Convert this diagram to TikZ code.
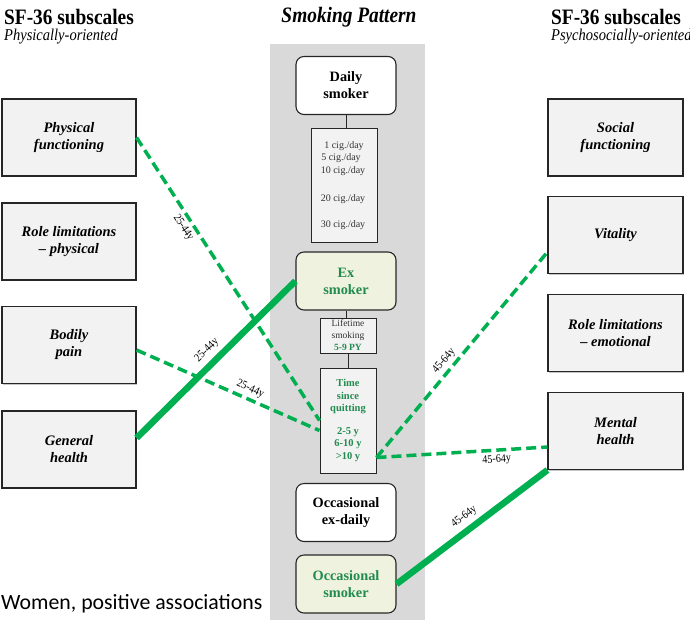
\documentclass[tikz,border=0pt]{standalone}
\usepackage{fontspec}
\setmainfont{Liberation Serif}
\newfontfamily\headfont{Liberation Serif}[FakeStretch=0.88]
\newfontfamily\notefont{Carlito}
\usetikzlibrary{shadows}

\definecolor{assocgreen}{RGB}{0,176,80}
\definecolor{textgreen}{RGB}{34,139,78}
\definecolor{bandgray}{RGB}{217,217,217}
\definecolor{boxgray}{RGB}{242,242,242}
\definecolor{exfill}{RGB}{238,242,222}

\begin{document}
\begin{tikzpicture}[x=1pt,y=-1pt,
  scale box/.style={draw=black!85,line width=1.1pt,fill=boxgray,minimum width=134pt,minimum height=77pt,
    inner sep=0pt,align=center,font=\fontsize{14.5}{17}\selectfont\bfseries\itshape,
    drop shadow={shadow xshift=1.2pt,shadow yshift=-1.2pt,opacity=.45}},
  pattern box/.style={draw=black!85,line width=1.1pt,rounded corners=8pt,minimum width=100pt,minimum height=58pt,
    inner sep=0pt,align=center,font=\fontsize{14.3}{17}\selectfont\bfseries},
  detail box/.style={draw=black!85,line width=1pt,fill=boxgray,inner sep=0pt,align=center},
  dose/.style={font=\fontsize{10}{10}\selectfont,text=black!80,inner sep=0pt},
  stem/.style={black!85,line width=1pt},
  assoc/.style={assocgreen,line width=6.5pt},
  assoc dashed/.style={assocgreen,line width=3.5pt,dash pattern=on 10pt off 5pt},
  age/.style={font=\headfont\fontsize{11.5}{11.5}\selectfont,sloped,inner sep=3pt,text=black}
]
\useasboundingbox (0,0) rectangle (690,625);

% Background band for the smoking pattern column
\fill[bandgray] (270,44) rectangle (425,620);

% Headings
\node[anchor=west,inner sep=0pt,font=\headfont\fontsize{22}{22}\selectfont\bfseries] (lefthead) at (4,17) {SF-36 subscales};
\node[anchor=west,inner sep=0pt,font=\headfont\fontsize{16.5}{16.5}\selectfont\itshape] (leftsub) at (4,37) {Physically-oriented};
\node[inner sep=0pt,font=\headfont\fontsize{22}{22}\selectfont\bfseries\itshape] (title) at (349,17) {Smoking Pattern};
\node[anchor=west,inner sep=0pt,font=\headfont\fontsize{22}{22}\selectfont\bfseries] (righthead) at (551,17) {SF-36 subscales};
\node[anchor=west,inner sep=0pt,font=\headfont\fontsize{16.5}{16.5}\selectfont\itshape] (rightsub) at (551,37) {Psychosocially-oriented};

% Physically-oriented subscales (manual placement)
\node[scale box] (physfunc)  at (69,137.5) {Physical\\functioning};
\node[scale box] (rolephys)  at (69,241.5) {Role limitations\\\textendash{} physical};
\node[scale box] (pain)      at (69,345)   {Bodily\\pain};
\node[scale box] (genhealth) at (69,449.5) {General\\health};

% Psychosocially-oriented subscales
\node[scale box,minimum width=135pt] (social)   at (615.5,137.5) {Social\\functioning};
\node[scale box,minimum width=135pt] (vitality) at (615.5,235)   {Vitality};
\node[scale box,minimum width=135pt] (roleemo)  at (615.5,333)   {Role limitations\\\textendash{} emotional};
\node[scale box,minimum width=135pt] (mental)   at (615.5,431)   {Mental\\health};

% Smoking pattern column
\node[pattern box,fill=white] (daily) at (346,85.5) {Daily\\smoker};
\node[detail box,minimum width=66pt,minimum height=114pt] (cig) at (344,185) {};
\node[dose] (cig1)  at (344,146) {1 cig./day};
\node[dose] (cig5)  at (341,158) {5 cig./day};
\node[dose] (cig10) at (343,171) {10 cig./day};
\node[dose] (cig20) at (343,199) {20 cig./day};
\node[dose] (cig30) at (343,225) {30 cig./day};

\node[pattern box,fill=exfill,text=textgreen] (ex) at (346,281) {Ex\\smoker};
\node[detail box,minimum width=56pt,minimum height=35pt,font=\fontsize{9.5}{12}\selectfont,text=black!80] (lifetime)
  at (348,335.5) {Lifetime\\smoking\\\textcolor{textgreen}{\bfseries 5-9 PY}};
\node[detail box,minimum width=56pt,minimum height=105pt,font=\fontsize{10.5}{12.5}\selectfont\bfseries,text=textgreen] (quit)
  at (348,420.5) {Time\\since\\quitting\\[10pt]2-5 y\\6-10 y\\>10 y};

\node[pattern box,fill=white] (occexdaily) at (346,512.5) {Occasional\\ex-daily};
\node[pattern box,fill=exfill,text=textgreen] (occsmoker) at (346,584) {Occasional\\smoker};

\draw[stem] (daily.south) -- (daily.south |- cig.north);
\draw[stem] (ex.south) -- (ex.south |- lifetime.north);
\draw[stem] (lifetime.south) -- (quit.north);

% Associations
\draw[assoc dashed] (physfunc.east) -- node[age,below,pos=0.3] {25-44y} (quit.west);
\draw[assoc dashed] ([yshift=-5pt]pain.east) -- node[age,above,pos=0.6] {25-44y} ([yshift=-10pt]quit.west);
\draw[assoc] ([yshift=11.5pt]genhealth.east) -- node[age,above,inner sep=4.5pt] {25-44y} (ex.west);
\draw[assoc dashed] ([yshift=-37pt]quit.east) -- node[age,above,pos=0.44] {45-64y} ([yshift=-17pt]vitality.west);
\draw[assoc dashed] ([yshift=-37pt]quit.east) -- node[age,below,pos=0.7] {45-64y} ([yshift=-16pt]mental.west);
\draw[assoc] (occsmoker.east) -- node[age,above,inner sep=4.5pt] {45-64y} (mental.south west);

\node[anchor=west,inner sep=0pt,font=\notefont\fontsize{21.8}{21.8}\selectfont] (note) at (1,604) {Women, positive associations};
\end{tikzpicture}
\end{document}
